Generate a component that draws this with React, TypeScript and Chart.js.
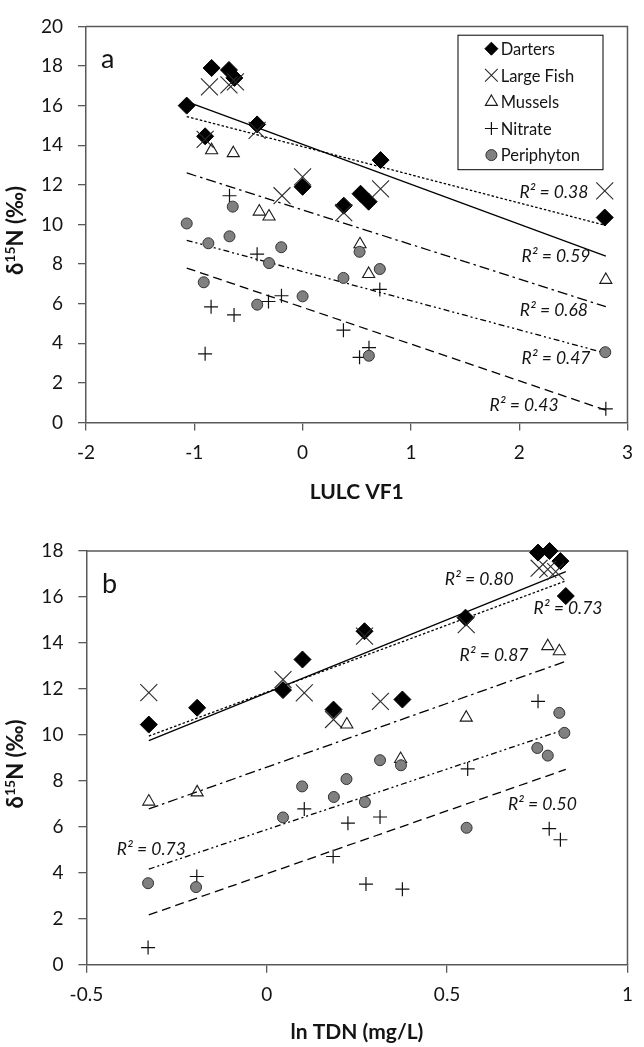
import React, { useEffect, useRef } from 'react';
import { Chart, registerables } from 'chart.js';
import { drawPoint } from 'chart.js/helpers';

Chart.register(...registerables);

const FONT = 'Lato, "Open Sans", "DejaVu Sans", sans-serif';
const AXIS = '#595959';
const TEXT = '#141414';

const seriesNames = ['Darters', 'Large Fish', 'Mussels', 'Nitrate', 'Periphyton'];

// ---------- Panel a : x = LULC VF1 ----------
const dartersAX = [-1.07, -0.84, -0.68, -0.63, -0.9, -0.42, 0.0, 0.72, 0.38, 0.535, 0.61, 2.79];
const dartersAY = [16.0, 17.9, 17.8, 17.4, 14.45, 15.05, 11.9, 13.25, 10.95, 11.55, 11.15, 10.35];
const fishAX = [-0.86, -0.68, -0.62, -0.9, -0.42, 0.0, -0.19, 0.38, 0.72, 2.79];
const fishAY = [16.95, 17.05, 17.2, 14.3, 14.75, 12.4, 11.45, 10.6, 11.8, 11.7];
const musselsAX = [-0.84, -0.64, -0.4, -0.31, 0.53, 0.61, 2.8];
const musselsAY = [13.75, 13.6, 10.65, 10.4, 9.0, 7.5, 7.2];
const nitrateAX = [-0.675, -0.42, -0.845, -0.633, -0.9, -0.315, -0.195, 0.377, 0.526, 0.613, 0.713, 2.8];
const nitrateAY = [11.45, 8.5, 5.84, 5.43, 3.47, 6.11, 6.4, 4.66, 3.29, 3.78, 6.72, 0.69];
const periAX = [-1.07, -0.87, -0.675, -0.645, -0.197, -0.31, -0.913, -0.419, 0.0, 0.377, 0.713, 0.526, 0.612, 2.795];
const periAY = [10.05, 9.05, 9.4, 10.9, 8.85, 8.05, 7.08, 5.95, 6.37, 7.3, 7.75, 8.62, 3.37, 3.55];
// trendline end values (Darters, Large Fish, Mussels, Nitrate, Periphyton)
const trendAX = [-1.07, 2.8];
const trendAStart = [16.2, 15.45, 12.6, 7.8, 9.2];
const trendAEnd = [8.4, 9.95, 5.85, 0.62, 3.5];
const r2AText = ['0.38', '0.59', '0.68', '0.47', '0.43'];
const r2AX = [2.32, 2.34, 2.32, 2.34, 2.045];
const r2AY = [11.63, 8.41, 5.68, 3.26, 0.85];

// ---------- Panel b : x = ln TDN ----------
const dartersBX = [-0.327, -0.193, 0.045, 0.099, 0.185, 0.271, 0.376, 0.551, 0.752, 0.784, 0.814, 0.829];
const dartersBY = [10.45, 11.18, 11.95, 13.28, 11.1, 14.51, 11.54, 15.1, 17.93, 18.0, 17.56, 16.04];
const fishBX = [-0.327, 0.045, 0.104, 0.185, 0.271, 0.315, 0.553, 0.755, 0.779, 0.801];
const fishBY = [11.84, 12.41, 11.83, 10.67, 14.3, 11.46, 14.8, 17.25, 17.2, 17.1];
const musselsBX = [-0.327, -0.193, 0.222, 0.371, 0.553, 0.779, 0.811];
const musselsBY = [7.1, 7.5, 10.45, 8.95, 10.75, 13.86, 13.64];
const nitrateBX = [-0.329, -0.194, 0.104, 0.184, 0.225, 0.275, 0.314, 0.376, 0.557, 0.752, 0.783, 0.814];
const nitrateBY = [0.75, 3.84, 6.78, 4.71, 6.16, 3.51, 6.43, 3.29, 8.52, 11.46, 5.92, 5.44];
const periBX = [-0.329, -0.196, 0.045, 0.098, 0.186, 0.221, 0.272, 0.314, 0.372, 0.554, 0.75, 0.779, 0.811, 0.825];
const periBY = [3.55, 3.38, 6.41, 7.76, 7.3, 8.08, 7.08, 8.9, 8.68, 5.96, 9.43, 9.1, 10.96, 10.09];
const trendBX = [-0.327, 0.829];
const trendBStart = [9.75, 9.95, 6.78, 2.17, 4.16];
const trendBEnd = [17.1, 16.7, 13.2, 8.5, 10.25];
const r2BText = ['0.80', '0.73', '0.87', '0.73', '0.50'];
const r2BX = [0.589, 0.835, 0.63, -0.32, 0.764];
const r2BY = [16.77, 15.49, 13.46, 5.03, 6.99];

// ---------- styles ----------
const markerStyles = [
  { pointStyle: 'rectRot', radius: 8.5, bg: '#000000', border: '#000000', bw: 1, legendRadius: 6.5 },
  { pointStyle: 'crossRot', radius: 12, bg: 'rgba(0,0,0,0)', border: '#2a2a2a', bw: 1.1, legendRadius: 9 },
  { pointStyle: 'triangle', radius: 7, bg: 'rgba(255,255,255,0)', border: '#1a1a1a', bw: 1.1, legendRadius: 7 },
  { pointStyle: 'cross', radius: 7, bg: 'rgba(0,0,0,0)', border: '#111111', bw: 1.2, legendRadius: 6.5 },
  { pointStyle: 'circle', radius: 5.5, bg: '#808080', border: '#333333', bw: 1, legendRadius: 5.5 },
];
const lineDashes = [[], [2.5, 2], [10, 4, 2.5, 4], [9, 5], [6, 3, 2, 3, 2, 3]];

type PanelCfg = {
  xs: number[][];
  ys: number[][];
  trendX: number[];
  trendStart: number[];
  trendEnd: number[];
  r2Text: string[];
  r2X: number[];
  r2Y: number[];
  xMin: number;
  xMax: number;
  xStep: number;
  yMax: number;
  xTitle: string;
  letter: string;
  letterX: number;
  letterY: number;
  legend: boolean;
  canvasTop: number;
  canvasHeight: number;
  padTop: number;
  padRight: number;
  yWidth: number;
  xHeight: number;
  xTitlePadBottom: number;
};

const panelA: PanelCfg = {
  xs: [dartersAX, fishAX, musselsAX, nitrateAX, periAX],
  ys: [dartersAY, fishAY, musselsAY, nitrateAY, periAY],
  trendX: trendAX,
  trendStart: trendAStart,
  trendEnd: trendAEnd,
  r2Text: r2AText,
  r2X: r2AX,
  r2Y: r2AY,
  xMin: -2,
  xMax: 3,
  xStep: 1,
  yMax: 20,
  xTitle: 'LULC VF1',
  letter: 'a',
  letterX: -1.8,
  letterY: 18.33,
  legend: true,
  canvasTop: 0,
  canvasHeight: 520,
  padTop: 8.5,
  padRight: 8,
  yWidth: 86,
  xHeight: 97.5,
  xTitlePadBottom: 15,
};

const panelB: PanelCfg = {
  xs: [dartersBX, fishBX, musselsBX, nitrateBX, periBX],
  ys: [dartersBY, fishBY, musselsBY, nitrateBY, periBY],
  trendX: trendBX,
  trendStart: trendBStart,
  trendEnd: trendBEnd,
  r2Text: r2BText,
  r2X: r2BX,
  r2Y: r2BY,
  xMin: -0.5,
  xMax: 1,
  xStep: 0.5,
  yMax: 18,
  xTitle: 'ln TDN (mg/L)',
  letter: 'b',
  letterX: -0.436,
  letterY: 16.55,
  legend: false,
  canvasTop: 520,
  canvasHeight: 527,
  padTop: 31,
  padRight: 6.2,
  yWidth: 86.4,
  xHeight: 82.2,
  xTitlePadBottom: 2,
};

function makeDatasets(p: PanelCfg) {
  const ds: any[] = [];
  seriesNames.forEach((name, i) => {
    const m = markerStyles[i];
    ds.push({
      label: name,
      data: p.xs[i].map((x, j) => ({ x, y: p.ys[i][j] })),
      pointStyle: m.pointStyle,
      pointRadius: m.radius,
      pointHoverRadius: m.radius,
      pointBackgroundColor: m.bg,
      pointBorderColor: m.border,
      pointBorderWidth: m.bw,
      showLine: false,
      order: 5 - i,
      clip: false,
    });
  });
  seriesNames.forEach((name, i) => {
    ds.push({
      label: name + ' trend',
      data: [
        { x: p.trendX[0], y: p.trendStart[i] },
        { x: p.trendX[1], y: p.trendEnd[i] },
      ],
      showLine: true,
      pointRadius: 0,
      borderColor: '#000000',
      borderWidth: 1.3,
      borderDash: lineDashes[i],
      fill: false,
      order: 10,
    });
  });
  return ds;
}

function makeDecor(p: PanelCfg) {
  return {
    id: 'decor',
    beforeDatasetsDraw(chart: any) {
      const { ctx, chartArea: ca } = chart;
      ctx.save();
      ctx.strokeStyle = AXIS;
      ctx.lineWidth = 1.5;
      ctx.beginPath();
      ctx.moveTo(ca.left, ca.top);
      ctx.lineTo(ca.right, ca.top);
      ctx.lineTo(ca.right, ca.bottom);
      ctx.stroke();
      ctx.restore();
    },
    afterDraw(chart: any) {
      const { ctx, chartArea: ca } = chart;
      const xs = chart.scales.x;
      const ys = chart.scales.y;
      ctx.save();
      // R² labels
      ctx.fillStyle = TEXT;
      ctx.textAlign = 'center';
      ctx.textBaseline = 'middle';
      ctx.font = `italic 17.5px ${FONT}`;
      p.r2Text.forEach((t, i) => {
        ctx.fillText('R\u00B2 = ' + t, xs.getPixelForValue(p.r2X[i]), ys.getPixelForValue(p.r2Y[i]));
      });
      // panel letter
      ctx.font = `27px ${FONT}`;
      ctx.fillText(p.letter, xs.getPixelForValue(p.letterX), ys.getPixelForValue(p.letterY));

      // legend
      if (p.legend) {
        const bx = ca.left + 372;
        const by = ca.top + 8.8;
        const bw = 145;
        const bh = 134.5;
        ctx.fillStyle = '#ffffff';
        ctx.fillRect(bx, by, bw, bh);
        ctx.strokeStyle = '#000000';
        ctx.lineWidth = 1;
        ctx.strokeRect(bx, by, bw, bh);
        seriesNames.forEach((name, i) => {
          const m = markerStyles[i];
          const cy = by + 13.5 + i * 26.6;
          const mx = bx + 33.4;
          ctx.fillStyle = m.bg;
          ctx.strokeStyle = m.border;
          ctx.lineWidth = m.bw;
          drawPoint(ctx, { pointStyle: m.pointStyle as any, radius: m.legendRadius, rotation: 0, borderWidth: m.bw }, mx, cy);
          ctx.fillStyle = TEXT;
          ctx.textAlign = 'left';
          ctx.textBaseline = 'middle';
          ctx.font = `16.5px ${FONT}`;
          ctx.fillText(name, bx + 42.7, cy + 1);
        });
      }

      // y-axis title: δ¹⁵N (‰)
      const cx = 15;
      const cyT = (ca.top + ca.bottom) / 2 + 6;
      ctx.translate(cx, cyT);
      ctx.rotate(-Math.PI / 2);
      ctx.fillStyle = TEXT;
      ctx.textAlign = 'left';
      ctx.textBaseline = 'alphabetic';
      const big = `bold 22px ${FONT}`;
      const small = `bold 14px ${FONT}`;
      ctx.font = big;
      const w1 = ctx.measureText('\u03B4').width;
      const w3 = ctx.measureText('N (\u2030)').width;
      ctx.font = small;
      const w2 = ctx.measureText('15').width;
      let x = -(w1 + w2 + w3) / 2;
      const base = 8;
      ctx.font = big;
      ctx.fillText('\u03B4', x, base);
      x += w1;
      ctx.font = small;
      ctx.fillText('15', x, base - 8);
      x += w2;
      ctx.font = big;
      ctx.fillText('N (\u2030)', x, base);
      ctx.restore();
    },
  };
}

function PanelChart({ p }: { p: PanelCfg }) {
  const ref = useRef<HTMLCanvasElement>(null);
  useEffect(() => {
    if (!ref.current) return;
    const tickFont = { family: FONT, size: 19 };
    const chart = new Chart(ref.current, {
      type: 'scatter',
      data: { datasets: makeDatasets(p) },
      options: {
        animation: false,
        responsive: false,
        events: [],
        layout: { padding: { top: p.padTop, right: p.padRight, left: 0, bottom: 0 } },
        plugins: {
          legend: { display: false },
          tooltip: { enabled: false },
        },
        scales: {
          x: {
            type: 'linear',
            min: p.xMin,
            max: p.xMax,
            ticks: {
              stepSize: p.xStep,
              font: tickFont,
              color: TEXT,
              padding: 11,
              callback: (v: any) => String(v),
            },
            grid: { drawOnChartArea: false, drawTicks: true, tickLength: 8, color: AXIS, lineWidth: 1.3 },
            border: { display: true, color: AXIS, width: 1.5 },
            title: {
              display: true,
              text: p.xTitle,
              color: TEXT,
              font: { family: FONT, size: 21, weight: 'bold' },
              padding: { top: 0, bottom: p.xTitlePadBottom },
            },
            afterFit: (s: any) => {
              s.height = p.xHeight;
            },
          },
          y: {
            type: 'linear',
            min: 0,
            max: p.yMax,
            ticks: {
              stepSize: 2,
              font: tickFont,
              color: TEXT,
              padding: 15,
              callback: (v: any) => String(v),
            },
            grid: { drawOnChartArea: false, drawTicks: true, tickLength: 8, color: AXIS, lineWidth: 1.3 },
            border: { display: true, color: AXIS, width: 1.5 },
            title: { display: false },
            afterFit: (s: any) => {
              s.width = p.yWidth;
            },
          },
        },
      } as any,
      plugins: [makeDecor(p) as any],
    });
    return () => chart.destroy();
  }, [p]);
  return (
    <canvas
      ref={ref}
      width={644}
      height={p.canvasHeight}
      style={{ position: 'absolute', left: 0, top: p.canvasTop, width: 644, height: p.canvasHeight }}
    />
  );
}

export default function App() {
  return (
    <div style={{ position: 'absolute', left: 0, top: 0, width: 644, height: 1047, background: '#ffffff' }}>
      <PanelChart p={panelA} />
      <PanelChart p={panelB} />
    </div>
  );
}
